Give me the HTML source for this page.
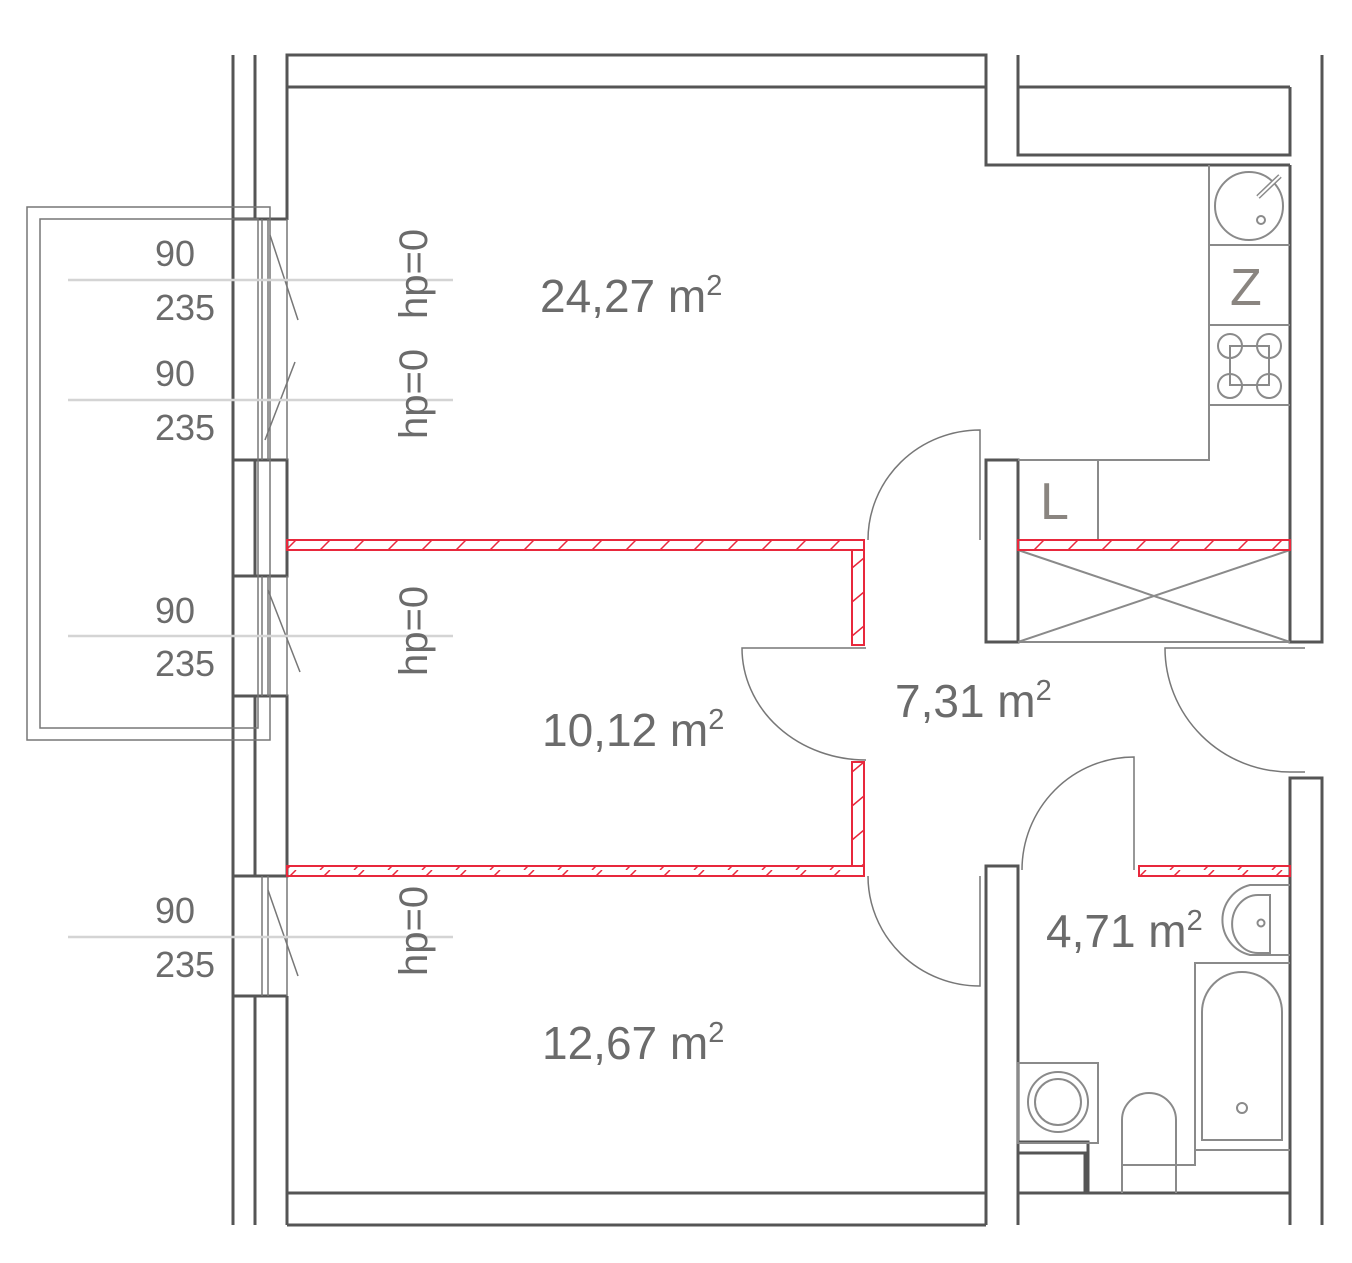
<!DOCTYPE html>
<html><head><meta charset="utf-8"><style>body{margin:0;background:#fff}svg{display:block}text{font-family:"Liberation Sans",sans-serif;fill:#6b6b6b}</style></head><body>
<svg width="1352" height="1263" viewBox="0 0 1352 1263" xmlns="http://www.w3.org/2000/svg">
<defs>
<pattern id="h" width="34" height="10" patternUnits="userSpaceOnUse"><line x1="14" y1="10" x2="24" y2="0" stroke="#e8283c" stroke-width="1.5"/></pattern>
<pattern id="hv" width="12" height="34" patternUnits="userSpaceOnUse"><line x1="0" y1="24" x2="12" y2="14" stroke="#e8283c" stroke-width="1.5"/></pattern>
</defs>
<g fill="none" stroke="#555" stroke-width="3">
<polyline points="287,220 287,55 986,55 986,165 1290,165"/>
<line x1="287" y1="87" x2="986" y2="87"/>
<polyline points="1018,55 1018,155 1290,155 1290,87"/>
<line x1="1018" y1="87" x2="1290" y2="87"/>
<polyline points="1290,165 1290,642 1322,642 1322,55"/>
<polyline points="1322,1225 1322,778 1290,778 1290,1193 1018,1193 1018,1225"/>
<polyline points="986,1225 986,1193 287,1193 287,996"/>
<line x1="287" y1="1225" x2="986" y2="1225"/>
<line x1="1290" y1="1193" x2="1290" y2="1225"/>
<rect x="986" y="460" width="32" height="182"/>
<polyline points="986,1225 986,866 1018,866 1018,1225"/>
<polyline points="1018,1142 1088,1142 1088,1193"/>
<polyline points="1018,1153 1085,1153 1085,1193"/>
<line x1="233" y1="55" x2="233" y2="1225"/>
<line x1="255" y1="55" x2="255" y2="219"/>
<rect x="233" y="460" width="54" height="116"/>
<line x1="255" y1="460" x2="255" y2="576"/>
<rect x="233" y="696" width="54" height="180"/>
<line x1="255" y1="696" x2="255" y2="876"/>
<line x1="287" y1="996" x2="287" y2="1225"/>
<line x1="255" y1="996" x2="255" y2="1225"/>
<line x1="233" y1="219" x2="287" y2="219"/>
<line x1="233" y1="996" x2="287" y2="996"/>
</g>
<g fill="none" stroke="#777" stroke-width="1.5">
<rect x="27" y="207" width="243" height="533"/>
<rect x="40" y="219" width="218" height="509"/>
<line x1="262" y1="219" x2="262" y2="460"/><line x1="268" y1="219" x2="268" y2="460"/><line x1="287" y1="219" x2="287" y2="460"/>
<line x1="262" y1="576" x2="262" y2="696"/><line x1="268" y1="576" x2="268" y2="696"/><line x1="287" y1="576" x2="287" y2="696"/>
<line x1="262" y1="876" x2="262" y2="996"/><line x1="268" y1="876" x2="268" y2="996"/><line x1="287" y1="876" x2="287" y2="996"/>
<line x1="270" y1="235" x2="298" y2="320"/><line x1="265" y1="440" x2="295" y2="362"/>
<line x1="268" y1="590" x2="300" y2="672"/><line x1="268" y1="890" x2="298" y2="976"/>
<path d="M980,540 L980,430 A112,110 0 0 0 868,540"/>
<path d="M866,648 L742,648 A124,112 0 0 0 866,760"/>
<path d="M980,876 L980,986 A112,110 0 0 1 868,876"/>
<path d="M1305,648 L1165,648 A125,124 0 0 0 1290,772 L1305,772"/>
<path d="M1134,870 L1134,757 A112,113 0 0 0 1022,870"/>
</g>
<g fill="none" stroke="#8a8a8a" stroke-width="2">
<polyline points="1209,165 1209,460 1018,460"/>
<line x1="1209" y1="245" x2="1290" y2="245"/><line x1="1209" y1="325" x2="1290" y2="325"/><line x1="1209" y1="405" x2="1290" y2="405"/>
<circle cx="1249" cy="206" r="34"/><circle cx="1261" cy="220" r="4"/>
<line x1="1258" y1="197" x2="1280" y2="176" stroke-width="5"/><line x1="1258" y1="197" x2="1280" y2="176" stroke="#fff" stroke-width="2"/>
<rect x="1230" y="346" width="39" height="39"/>
<circle cx="1230" cy="346" r="12"/><circle cx="1269" cy="346" r="12"/><circle cx="1230" cy="386" r="12"/><circle cx="1269" cy="386" r="12"/>
<line x1="1098" y1="460" x2="1098" y2="540"/>
<line x1="1018" y1="642" x2="1290" y2="642"/>
<line x1="1018" y1="550" x2="1290" y2="642"/><line x1="1290" y1="550" x2="1018" y2="642"/>
<path d="M1290,885 L1250,885 A36,36 0 0 0 1250,955 L1290,955"/>
<path d="M1270,895 L1258,895 A25,28 0 0 0 1258,953 L1270,953 Z"/>
<circle cx="1261" cy="923" r="3.5"/>
<polyline points="1290,963 1195,963 1195,1150 1290,1150"/>
<path d="M1202,1140 L1202,1012 A40,40 0 0 1 1282,1012 L1282,1140 Z"/>
<circle cx="1242" cy="1108" r="5"/>
<rect x="1018" y="1063" width="80" height="80"/>
<circle cx="1058" cy="1102" r="30"/><circle cx="1058" cy="1102" r="23"/>
<path d="M1122,1193 L1122,1120 A27,27 0 0 1 1176,1120 L1176,1193"/>
<polyline points="1122,1165 1195,1165 1195,1150"/>
</g>
<g stroke="#e8283c" stroke-width="2">
<rect x="287" y="540" width="577" height="10" fill="url(#h)"/>
<rect x="287" y="866" width="577" height="10" fill="url(#h)"/>
<rect x="852" y="550" width="12" height="95" fill="url(#hv)"/>
<rect x="852" y="762" width="12" height="104" fill="url(#hv)"/>
<rect x="1018" y="540" width="272" height="10" fill="url(#h)"/>
<rect x="1139" y="866" width="151" height="10" fill="url(#h)"/>
</g>
<g stroke="#d4d4d4" stroke-width="2.5">
<line x1="68" y1="280" x2="453" y2="280"/><line x1="68" y1="400" x2="453" y2="400"/>
<line x1="68" y1="636" x2="453" y2="636"/><line x1="68" y1="937" x2="453" y2="937"/>
</g>
<g font-size="36" text-anchor="middle">
<text x="175" y="266">90</text><text x="185" y="320">235</text>
<text x="175" y="386">90</text><text x="185" y="440">235</text>
<text x="175" y="623">90</text><text x="185" y="676">235</text>
<text x="175" y="923">90</text><text x="185" y="977">235</text>
</g>
<g font-size="40">
<text transform="translate(427,319) rotate(-90)">hp=0</text>
<text transform="translate(427,439) rotate(-90)">hp=0</text>
<text transform="translate(427,676) rotate(-90)">hp=0</text>
<text transform="translate(427,976) rotate(-90)">hp=0</text>
</g>
<g font-size="46">
<text x="540" y="312">24,27 m<tspan font-size="29" dy="-17">2</tspan></text>
<text x="542" y="746">10,12 m<tspan font-size="29" dy="-17">2</tspan></text>
<text x="542" y="1059">12,67 m<tspan font-size="29" dy="-17">2</tspan></text>
<text x="895" y="717">7,31 m<tspan font-size="29" dy="-17">2</tspan></text>
<text x="1046" y="947">4,71 m<tspan font-size="29" dy="-17">2</tspan></text>
</g>
<g font-size="52"><text x="1230" y="305" style="fill:#8a8580">Z</text><text x="1040" y="519" style="fill:#8a8580">L</text></g>
</svg>
</body></html>
